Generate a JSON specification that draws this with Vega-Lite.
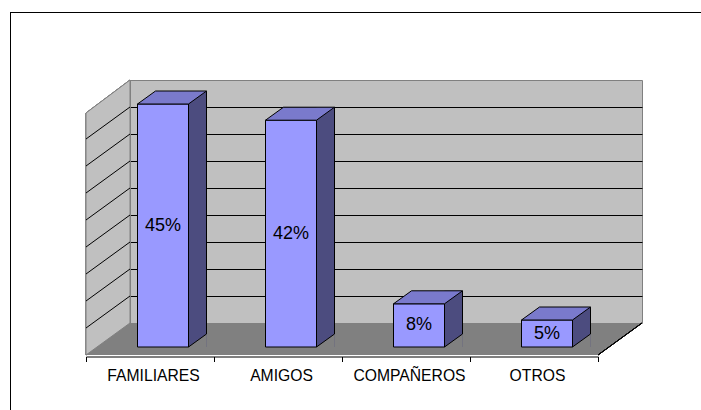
{
  "$schema": "https://vega.github.io/schema/vega-lite/v6.json",
  "width": 512,
  "height": 243,
  "autosize": {"type": "none"},
  "padding": {"left": 130, "top": 80, "right": 59, "bottom": 87},
  "background": "white",
  "config": {
    "view": {"fill": "#c0c0c0", "stroke": "#808080", "strokeWidth": 1},
    "font": "Liberation Sans"
  },
  "data": {
    "values": [
      {"categoria": "FAMILIARES", "porcentaje": 0.45},
      {"categoria": "AMIGOS", "porcentaje": 0.42},
      {"categoria": "COMPAÑEROS", "porcentaje": 0.08},
      {"categoria": "OTROS", "porcentaje": 0.05}
    ]
  },
  "encoding": {
    "x": {
      "field": "categoria",
      "type": "nominal",
      "sort": ["FAMILIARES", "AMIGOS", "COMPAÑEROS", "OTROS"],
      "scale": {"paddingInner": 0, "paddingOuter": 0},
      "axis": {
        "title": null,
        "labelAngle": 0,
        "offset": 77.5,
        "translate": -43.5,
        "domainColor": "black",
        "domainWidth": 1,
        "tickColor": "black",
        "tickWidth": 1,
        "tickSize": 5,
        "tickBand": "extent",
        "labelFont": "Liberation Sans",
        "labelFontSize": 15.7,
        "labelColor": "black",
        "labelPadding": 7,
        "labelOffset": 3,
        "grid": false
      }
    }
  },
  "layer": [
    {
      "layer": [
        {
          "mark": {"type": "point", "shape": "M-64,0 L448,0 L404,32 L-108,32 Z", "size": 4, "filled": true, "fill": "#808080", "strokeWidth": 0, "opacity": 1},
          "encoding": {
            "x": {"datum": "FAMILIARES"},
            "y": {"datum": 0, "type": "quantitative", "scale": {"domain": [0, 0.45], "nice": false}}
          }
        },
        {
          "mark": {"type": "point", "shape": "M448,0 L404,32", "size": 4, "filled": false, "stroke": "black", "strokeWidth": 1, "opacity": 1},
          "encoding": {
            "x": {"datum": "FAMILIARES"},
            "y": {"datum": 0, "type": "quantitative"}
          }
        },
        {
          "mark": {"type": "point", "shape": "M-64,-243 L-64,0 L-108,32 L-108,-210 Z", "size": 4, "filled": true, "fill": "#c0c0c0", "stroke": "#808080", "strokeWidth": 1, "opacity": 1},
          "encoding": {
            "x": {"datum": "FAMILIARES"},
            "y": {"datum": 0, "type": "quantitative"}
          }
        },
        {
          "data": {"values": [
            {"nivel": 0.05}, {"nivel": 0.10}, {"nivel": 0.15}, {"nivel": 0.20},
            {"nivel": 0.25}, {"nivel": 0.30}, {"nivel": 0.35}, {"nivel": 0.40}
          ]},
          "mark": {"type": "point", "shape": "M-108,32 L-64,0", "size": 4, "filled": false, "stroke": "black", "strokeWidth": 1, "opacity": 1},
          "encoding": {
            "x": {"datum": "FAMILIARES"},
            "y": {"field": "nivel", "type": "quantitative"}
          }
        },
        {
          "mark": {"type": "bar", "width": 18, "xOffset": 3.5, "yOffset": 11, "y2Offset": 24, "color": "#4c4c7f"},
          "encoding": {
            "y": {
              "field": "porcentaje",
              "type": "quantitative",
              "scale": {"domain": [0, 0.45], "nice": false},
              "axis": {
                "values": [0.05, 0.1, 0.15, 0.2, 0.25, 0.3, 0.35, 0.4],
                "tickCount": 20,
                "grid": true,
                "gridColor": "black",
                "gridWidth": 1,
                "gridOpacity": 1,
                "labels": false,
                "ticks": false,
                "domain": false,
                "title": null
              }
            },
            "y2": {"datum": 0}
          }
        },
        {
          "mark": {"type": "point", "shape": "M-5.5,24 L12.5,24 L12.5,11 Z", "size": 4, "filled": true, "fill": "#808080", "strokeWidth": 0, "opacity": 1},
          "encoding": {
            "y": {"datum": 0, "type": "quantitative"}
          }
        },
        {
          "mark": {"type": "point", "shape": "M-5.5,24 L12.5,11", "size": 4, "filled": false, "stroke": "black", "strokeWidth": 1, "opacity": 1},
          "encoding": {
            "y": {"datum": 0, "type": "quantitative"}
          }
        },
        {
          "mark": {"type": "rule", "xOffset": 12.5, "yOffset": 11, "y2Offset": 11, "color": "black", "strokeWidth": 1},
          "encoding": {
            "y": {"field": "porcentaje", "type": "quantitative"},
            "y2": {"datum": 0}
          }
        },
        {
          "mark": {"type": "bar", "width": 51, "xOffset": -31, "yOffset": 24, "y2Offset": 24, "fill": "#9999ff", "stroke": "black", "strokeWidth": 1},
          "encoding": {
            "y": {"field": "porcentaje", "type": "quantitative"},
            "y2": {"datum": 0}
          }
        },
        {
          "mark": {"type": "point", "shape": "M-56.5,24 L-5.5,24 L12.5,11 L-38.5,11 Z", "size": 4, "filled": true, "fill": "#7a7acc", "stroke": "black", "strokeWidth": 1, "opacity": 1},
          "encoding": {
            "y": {"field": "porcentaje", "type": "quantitative"}
          }
        },
        {
          "mark": {"type": "point", "shape": "M-183.5,100 L-183.5,-310.5 L520,-310.5", "size": 4, "filled": false, "stroke": "black", "strokeWidth": 1, "opacity": 1},
          "encoding": {
            "x": {"datum": "FAMILIARES"},
            "y": {"datum": 0, "type": "quantitative"}
          }
        }
      ]
    },
    {
      "mark": {"type": "text", "font": "Liberation Sans", "fontSize": 18, "xOffset": -31, "yOffset": 24, "baseline": "middle", "align": "center", "color": "black"},
      "encoding": {
        "y": {"field": "porcentaje", "type": "quantitative", "scale": {"domain": [0, 0.9], "nice": false}, "axis": null},
        "text": {"field": "porcentaje", "type": "quantitative", "format": ".0%"}
      }
    }
  ],
  "resolve": {"scale": {"y": "independent"}}
}
